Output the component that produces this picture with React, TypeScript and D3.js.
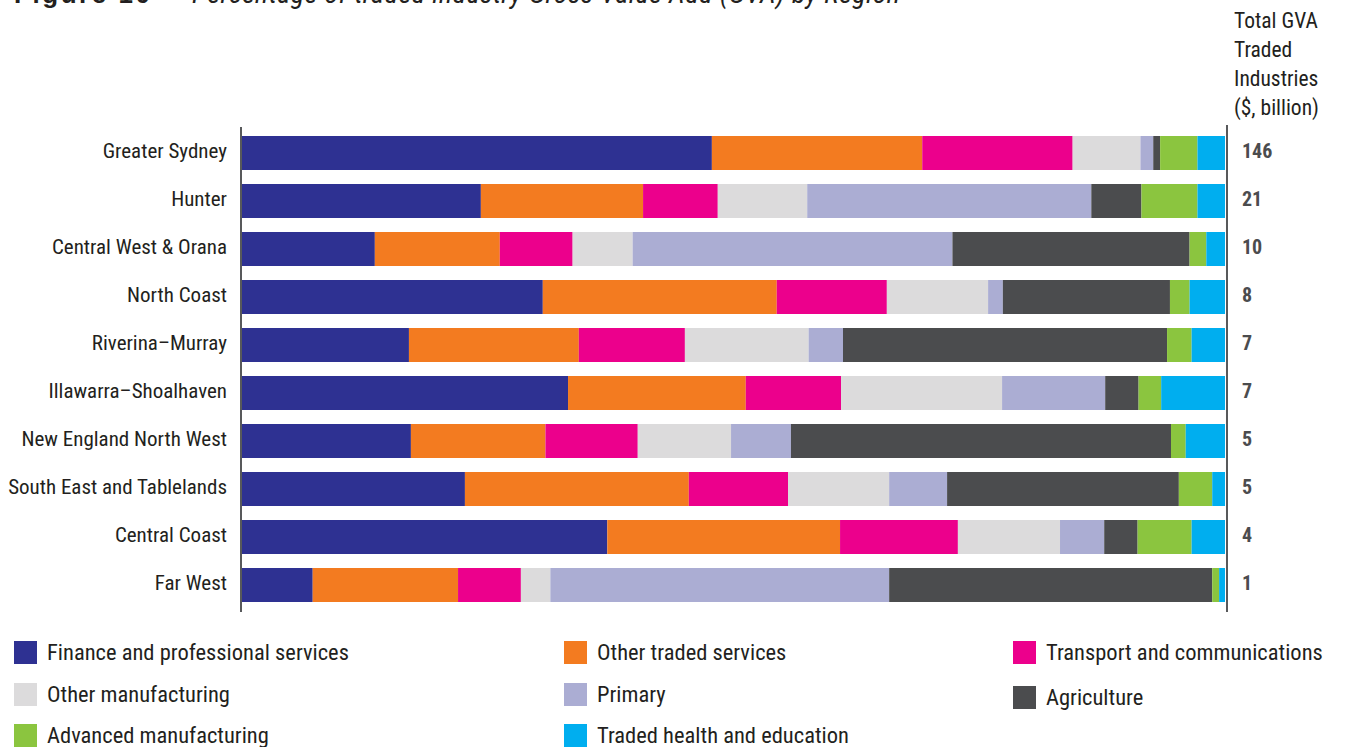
import React from "react";
import * as d3 from "d3";

const regions = [
  "Greater Sydney",
  "Hunter",
  "Central West & Orana",
  "North Coast",
  "Riverina–Murray",
  "Illawarra–Shoalhaven",
  "New England North West",
  "South East and Tablelands",
  "Central Coast",
  "Far West",
];

const industries = [
  "Finance and professional services",
  "Other traded services",
  "Transport and communications",
  "Other manufacturing",
  "Primary",
  "Agriculture",
  "Advanced manufacturing",
  "Traded health and education",
];

const colors = ["#2e3192", "#f37b20", "#ec008c", "#dcdbdc", "#abadd3", "#4b4c4e", "#8bc53f", "#00aeef"];

// percentage shares per region (same order as industries)
const finance = [47.8, 24.3, 13.5, 30.6, 17.0, 33.2, 17.2, 22.7, 37.2, 7.2];
const otherServices = [21.4, 16.5, 12.7, 23.8, 17.3, 18.1, 13.7, 22.8, 23.7, 14.8];
const transport = [15.3, 7.6, 7.4, 11.2, 10.8, 9.7, 9.4, 10.1, 12.0, 6.4];
const otherManufacturing = [6.9, 9.1, 6.1, 10.3, 12.6, 16.4, 9.5, 10.3, 10.4, 3.0];
const primary = [1.3, 28.9, 32.5, 1.5, 3.5, 10.5, 6.1, 5.9, 4.5, 34.5];
const agriculture = [0.7, 5.1, 24.1, 17.0, 33.0, 3.4, 38.7, 23.6, 3.4, 32.9];
const advancedManufacturing = [3.8, 5.7, 1.7, 2.0, 2.5, 2.3, 1.5, 3.4, 5.5, 0.7];
const healthEducation = [2.8, 2.8, 1.9, 3.6, 3.4, 6.5, 4.0, 1.3, 3.4, 0.6];

const totalGVA = ["146", "21", "10", "8", "7", "7", "5", "5", "4", "1"];

const headerLines = ["Total GVA", "Traded", "Industries", "($, billion)"];

const titleLabel = "Figure 10";
const titleText = "Percentage of traded industry Gross Value Add (GVA) by Region";

const FONT = "'Liberation Sans Narrow', 'Roboto Condensed', 'Arial Narrow', Roboto, sans-serif";
const TEXT = "#231f20";

export default function App() {
  const series = [finance, otherServices, transport, otherManufacturing, primary, agriculture, advancedManufacturing, healthEducation];
  const rows = regions.map((r, i) => {
    const o: any = { region: r };
    const total = series.reduce((s, arr) => s + arr[i], 0);
    industries.forEach((k, j) => (o[k] = (series[j][i] / total) * 100));
    return o;
  });
  const stacked = d3.stack<any>().keys(industries)(rows);

  const x = d3.scaleLinear().domain([0, 100]).range([242, 1225]);
  const p = 14 / 48;
  const y = d3.scaleBand().domain(regions).range([129, 609]).paddingInner(p).paddingOuter(p / 2);
  const color = d3.scaleOrdinal<string, string>().domain(industries).range(colors);

  const legendCols = [14, 564, 1013];
  const legendRows = [641, 683, 724];

  return (
    <svg width={1346} height={747} style={{ position: "absolute", left: 0, top: 0, display: "block" }} fontFamily={FONT}>
      <rect width={1346} height={747} fill="#fff" />
      <text x={14} y={3} fontSize={26} fill={TEXT} fontWeight="bold" fontFamily="'Liberation Sans', Arial, sans-serif" textLength={136}>
        {titleLabel}
      </text>
      <text x={165} y={3} fontSize={26} fill={TEXT}>–</text>
      <text x={192} y={3} fontSize={28} fill={TEXT} fontStyle="italic" textLength={708}>
        {titleText}
      </text>

      {headerLines.map((t, i) => (
        <text key={t} x={1234} y={28 + i * 29} fontSize={21.5} fill={TEXT}>
          {t}
        </text>
      ))}

      {stacked.map((s) => (
        <g key={s.key} fill={color(s.key)}>
          {s.map((d, i) => (
            <rect
              key={i}
              x={x(d[0])}
              y={y(d.data.region)!}
              width={Math.max(0, x(d[1]) - x(d[0]))}
              height={y.bandwidth()}
            />
          ))}
        </g>
      ))}

      <line x1={241} x2={241} y1={127} y2={612} stroke="#58595b" strokeWidth={2} />
      <line x1={1227} x2={1227} y1={125} y2={612} stroke="#58595b" strokeWidth={2} />

      {regions.map((r) => (
        <text
          key={r}
          x={227}
          y={y(r)! + y.bandwidth() / 2}
          dy="0.22em"
          textAnchor="end"
          fontSize={21}
          fill={TEXT}
        >
          {r}
        </text>
      ))}

      {regions.map((r, i) => (
        <text
          key={r}
          x={1242}
          y={y(r)! + y.bandwidth() / 2}
          dy="0.24em"
          fontSize={20}
          fontWeight="bold"
          fill="#4b4c4e"
        >
          {totalGVA[i]}
        </text>
      ))}

      {industries.map((k, i) => {
        const col = i % 3;
        const row = Math.floor(i / 3);
        const lx = legendCols[col];
        const ly = legendRows[row] + (i === 5 ? 3 : 0);
        return (
          <g key={k}>
            <rect x={lx} y={ly} width={23} height={23} fill={color(k)} />
            <text x={lx + 33} y={ly + 11.5} dy="0.34em" fontSize={22.5} fill={TEXT}>
              {k}
            </text>
          </g>
        );
      })}
    </svg>
  );
}
